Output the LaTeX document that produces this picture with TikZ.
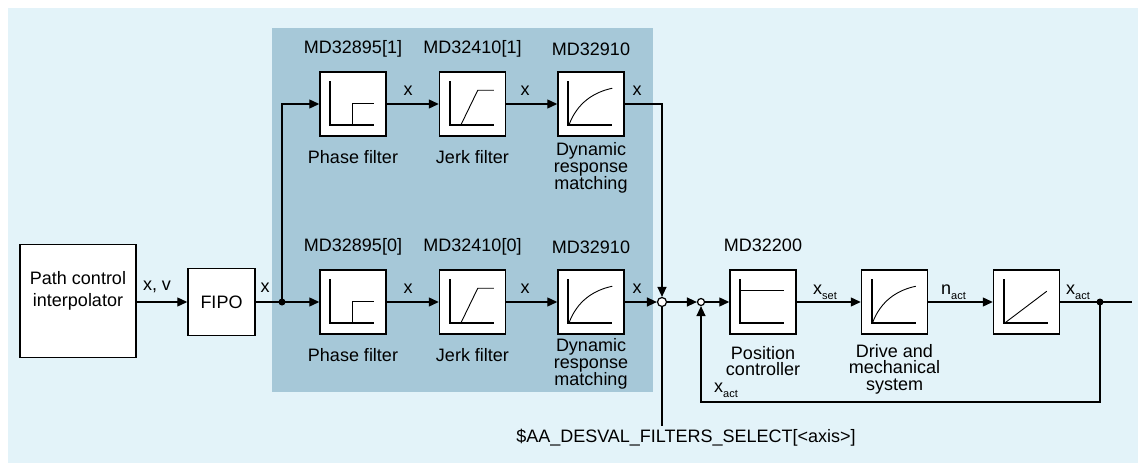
\documentclass[tikz,border=0pt]{standalone}
\usepackage{fontspec}
\setmainfont{Liberation Sans}
\usetikzlibrary{arrows.meta,calc}
\definecolor{bglight}{RGB}{227,243,249}
\definecolor{bgdark}{RGB}{166,200,216}
\newcommand\gaxes[1]{\draw[ax] ([shift={(11,10)}]#1.north west) |- ([shift={(55,54)}]#1.north west);}
\newcommand\gstep[1]{\gaxes{#1}\draw[ax,line width=1.2pt] ([shift={(33,54)}]#1.north west) |- ([shift={(55,32)}]#1.north west);}
\newcommand\gramp[1]{\gaxes{#1}\draw[thinl] ([shift={(22,54)}]#1.north west) -- ([shift={(39,19)}]#1.north west) -- ([shift={(55,19)}]#1.north west);}
\newcommand\gcurve[1]{\gaxes{#1}\draw[thinl] ([shift={(12,53)}]#1.north west) .. controls ([shift={(20,32)}]#1.north west) and ([shift={(36,21)}]#1.north west) .. ([shift={(55,17)}]#1.north west);}
\newcommand\gflat[1]{\gaxes{#1}\draw[thinl] ([shift={(11,21)}]#1.north west) -- ([shift={(55,21)}]#1.north west);}
\newcommand\gline[1]{\gaxes{#1}\draw[thinl] ([shift={(13,53)}]#1.north west) -- ([shift={(54,22)}]#1.north west);}
\begin{document}
\begin{tikzpicture}[x=1pt,y=-1pt,
 blk/.style={draw,line width=1.5pt,fill=white,minimum width=66pt,minimum height=64pt,inner sep=0pt},
 txt/.style={font=\fontsize{18}{16.5}\selectfont,align=center,inner sep=0pt},
 arr/.style={line width=1.3pt,-{Triangle[length=10pt,width=9pt]}},
 ln/.style={line width=1.3pt},
 ax/.style={line width=2pt},
 thinl/.style={line width=0.9pt},
 jdot/.style={circle,fill=black,inner sep=0pt,minimum size=7pt},
 sw/.style={circle,draw,line width=1.2pt,fill=white,inner sep=0pt}]
\useasboundingbox (0,0) rectangle (1138,463);
\fill[bglight] (8,8) rectangle (1138,463);
\fill[bgdark] (272,28) rectangle (653,392);

% left part
\node[draw,line width=1.5pt,fill=white,minimum width=116pt,minimum height=113pt,inner sep=0pt] (pci) at (78,301) {};
\node[txt,font=\fontsize{18}{22}\selectfont] (pcit) at (78,291) {Path control\\interpolator};
\node[blk,txt,minimum width=67pt,minimum height=67pt] (fipo) at (221.5,302) {FIPO};
\node[jdot] (d1) at (282,302) {};

% upper row
\node[blk] (pf1) at (353,104) {};
\node[blk] (jf1) at (472.5,104) {};
\node[blk] (drm1) at (591,104) {};
% lower row
\node[blk] (pf0) at (353,302) {};
\node[blk] (jf0) at (472.5,302) {};
\node[blk] (drm0) at (591,302) {};
% right part
\node[blk] (pc) at (763,302) {};
\node[blk] (drv) at (894.5,302) {};
\node[blk] (intg) at (1026.5,302) {};
\node[jdot] (d2) at (1100,302) {};
\coordinate (outc) at (1132,302);
\coordinate (fbc) at (1100,402);
\coordinate (selc) at (662,426);
\node[sw,minimum size=9pt] (sw1) at (662,302) {};
\node[sw,minimum size=7pt] (sw2) at (701,302) {};

% glyphs
\gstep{pf1}\gramp{jf1}\gcurve{drm1}
\gstep{pf0}\gramp{jf0}\gcurve{drm0}
\gflat{pc}\gcurve{drv}\gline{intg}

% connectors
\draw[arr] (pci.east |- fipo.west) -- (fipo.west);
\draw[ln] (fipo.east) -- (d1.center);
\draw[arr] (d1.center) -- (pf0.west);
\draw[arr] (d1.center) |- (pf1.west);
\draw[arr] (pf1.east) -- (jf1.west);
\draw[arr] (jf1.east) -- (drm1.west);
\draw[arr] (pf0.east) -- (jf0.west);
\draw[arr] (jf0.east) -- (drm0.west);
\draw[arr] (drm1.east) -| (sw1.north);
\draw[arr] (drm0.east) -- (sw1.west);
\draw[ln] (sw1.south) -- (selc);
\draw[arr] (sw1.east) -- (sw2.west);
\draw[arr] (sw2.east) -- (pc.west);
\draw[arr] (pc.east) -- (drv.west);
\draw[arr] (drv.east) -- (intg.west);
\draw[ln] (intg.east) -- (d2.center) -- (outc);
\draw[arr] (d2.center) -- (fbc) -| (sw2.south);

% labels
\node[txt] (lxv) at (157,287) {x, v};
\node[txt] (lx0) at (265,288) {x};
\node[txt] (lx11) at (408,91) {x};
\node[txt] (lx12) at (525,91) {x};
\node[txt] (lx13) at (637,91) {x};
\node[txt] (lx01) at (408,289) {x};
\node[txt] (lx02) at (525,289) {x};
\node[txt] (lx03) at (637,289) {x};
\node[txt,anchor=base west] (lxs) at (813,294) {x\raisebox{-5pt}{\fontsize{11}{11}\selectfont set}};
\node[txt,anchor=base west] (lna) at (941,294) {n\raisebox{-5pt}{\fontsize{11}{11}\selectfont act}};
\node[txt,anchor=base west] (lxa) at (1066,294) {x\raisebox{-5pt}{\fontsize{11}{11}\selectfont act}};
\node[txt,anchor=base west] (lxf) at (714,392) {x\raisebox{-5pt}{\fontsize{11}{11}\selectfont act}};

\node[txt] (md1a) at (353,49) {MD32895[1]};
\node[txt] (md1b) at (472.5,49) {MD32410[1]};
\node[txt] (md1c) at (591,49) {MD32910};
\node[txt] (md0a) at (353,247) {MD32895[0]};
\node[txt] (md0b) at (472.5,247) {MD32410[0]};
\node[txt] (md0c) at (591,247) {MD32910};
\node[txt] (mdpc) at (763,245) {MD32200};

\node[txt] (n1a) at (353,157) {Phase filter};
\node[txt] (n1b) at (472.5,157) {Jerk filter};
\node[txt] (n1c) at (591,168) {Dynamic\\response\\matching};
\node[txt] (n0a) at (353,355) {Phase filter};
\node[txt] (n0b) at (472.5,355) {Jerk filter};
\node[txt] (n0c) at (591,364) {Dynamic\\response\\matching};
\node[txt] (npc) at (763,361) {Position\\controller};
\node[txt] (ndrv) at (894.5,369) {Drive and\\mechanical\\system};
\node[txt] (nsel) at (686,438) {\$AA\_DESVAL\_FILTERS\_SELECT[<axis>]};
\end{tikzpicture}
\end{document}
